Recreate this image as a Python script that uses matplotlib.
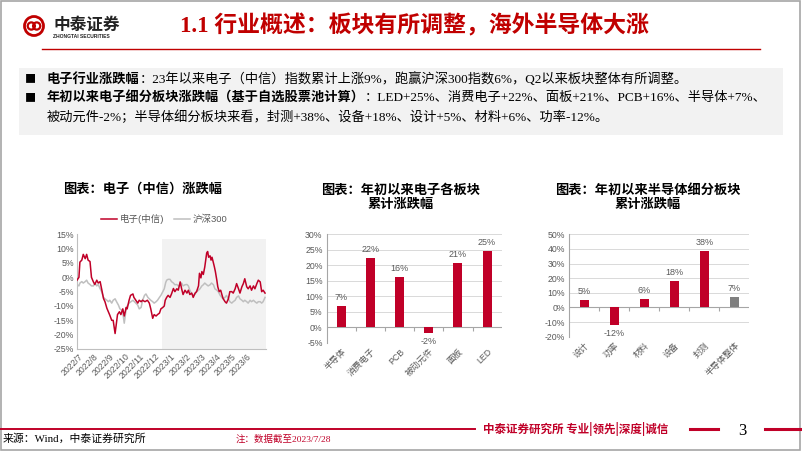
import matplotlib
matplotlib.use('Agg')
import matplotlib.pyplot as plt
from matplotlib.patches import Rectangle, Circle
from matplotlib.lines import Line2D

plt.rcParams['font.family'] = ['Liberation Sans', 'Noto Sans CJK SC', 'DejaVu Sans']
plt.rcParams['axes.unicode_minus'] = False

W, H = 802, 451

# ---------------- data ----------------
# 电子(中信) / 沪深300, days since 2022-07-01, % change
red_days = [0, 4, 6, 10, 13, 17, 20, 23, 27, 30, 34, 37, 41, 44, 48, 51, 55, 58, 62, 65,
            68, 72, 75, 79, 81, 84, 88, 91, 95, 98, 102, 104, 108, 111, 116, 118, 122, 126, 129, 133,
            136, 141, 146, 150, 153, 157, 160, 164, 167, 171, 174, 178, 181, 183, 186, 189, 193, 196, 200, 203,
            207, 210, 214, 217, 220, 224, 228, 231, 234, 238, 241, 245, 248, 252, 254, 257, 259, 262, 265, 269,
            271, 273, 276, 278, 280, 283, 285, 287, 290, 292, 295, 298, 301, 303, 307, 310, 314, 317, 321, 324,
            328, 331, 335, 338, 342, 345, 348, 352, 355, 359, 362, 366, 369, 373, 376, 380, 383, 386, 390]
red_vals = [-1, 0, 5.3, 6, 8, 6.5, 8, 6, 5.5, 0, -1.6, -2.5, -1, -2, -1.5, -4, -7.4, -8.5, -10.8, -12,
            -13.2, -15, -15, -19.6, -17, -13, -12, -13, -11, -13.5, -10.5, -11, -8, -6.3, -5.8, -7, -8, -9, -8, -8.5,
            -8, -8.5, -8, -9, -11, -14.3, -13, -13.5, -13, -12.5, -11, -10.5, -10, -8, -7, -6.3, -7, -5.8, -3.9, -5,
            -4, -4.5, -1.6, -4, -6, -4.5, -5.5, -4.5, -6, -5.5, -7, -5.5, -5, -3, 1.4, -0.2, 2, 1, 3.6, 8.5,
            9, 7, 7.5, 6, 7, 5, 3.6, 2, -1, -3.3, -5, -4.5, -6.3, -7.4, -8.5, -9, -7.5, -5, -5, -5.5,
            -4, -2.2, -4, -5.5, -3.3, -2.2, -0.5, -3.3, -4, -3, -4.5, -3, -4, -2.2, -1, -1.6, -5, -4.5, -5.5]

gray_days = [0, 4, 6, 10, 13, 17, 20, 23, 27, 30, 34, 37, 41, 44, 48, 51, 55, 58, 62, 65,
             68, 72, 75, 79, 82, 86, 89, 93, 96, 98, 102, 104, 108, 112, 116, 119, 122, 126, 129, 133,
             136, 140, 143, 147, 150, 153, 157, 160, 164, 167, 171, 174, 178, 181, 184, 186, 189, 193, 196, 200,
             203, 207, 210, 214, 217, 220, 224, 228, 231, 234, 238, 241, 245, 248, 252, 255, 259, 262, 265, 269,
             272, 276, 279, 283, 286, 290, 293, 297, 300, 303, 307, 310, 314, 317, 321, 324, 328, 331, 335, 338,
             342, 345, 348, 352, 355, 359, 362, 366, 369, 373, 376, 380, 383, 386, 390]
gray_vals = [-2.5, -3, -2, -1.5, -2, -1.5, -1, -2, -2.5, -3, -3, -2, -3, -2.5, -4, -5, -7, -7.5, -8, -8.5,
             -8, -9, -8, -7.5, -8.5, -9.7, -11, -11.5, -13.5, -16, -11, -10, -9, -8.5, -8, -8.5, -9, -9.7, -11, -10.5,
             -8, -6.3, -5.8, -7, -7.5, -8, -8.5, -9, -8.5, -8, -7, -6.3, -5, -4, -1.8, -1, -0.7, -0.7, -1.5, -2,
             -2.6, -2.5, -3, -2.6, -2, -3, -2.6, -2.5, -3, -4.5, -5.8, -6.3, -5.8, -5, -4.5, -4, -3, -2.6, -2, -2.6,
             -3, -2.6, -2, -2.6, -4, -4.5, -5, -6.3, -7, -7.5, -7, -6.3, -7.5, -8.5, -9, -8.5, -8, -7, -6.5, -7.5,
             -8, -8.5, -8, -8.5, -9, -8, -8.5, -8, -8.5, -9, -8.5, -8.5, -9, -8.5, -7]

month_ticks = [3, 34, 67, 100, 131, 162, 194, 228, 259, 290, 321, 352]
month_labels = ['2022/7', '2022/8', '2022/9', '2022/10', '2022/11', '2022/12',
                '2023/1', '2023/2', '2023/3', '2023/4', '2023/5', '2023/6']
shade_start = 176
day_end = 392

sector_names = ['半导体', '消费电子', 'PCB', '被动元件', '面板', 'LED']
sector_vals = [6.9, 22.2, 16.2, -1.9, 20.6, 24.6]

semi_names = ['设计', '功率', '材料', '设备', '封测', '半导体整体']
semi_vals = [5.0, -12.2, 5.9, 17.8, 38.3, 6.9]
semi_colors = ['#C00028', '#C00028', '#C00028', '#C00028', '#C00028', '#7F7F7F']

RED = '#C00028'
TRED = '#C00000'
TXT = '#595959'
SERIF = ['Liberation Serif', 'Noto Sans CJK SC']
CJK = ['Noto Sans CJK SC', 'DejaVu Sans']


def fx(x):
    return x / W


def fy(y):
    return 1 - y / H


def axes_px(l, t, r, b):
    return fig.add_axes([l / W, 1 - b / H, (r - l) / W, (b - t) / H])


fig = plt.figure(figsize=(W / 100, H / 100), dpi=100)
renderer = fig.canvas.get_renderer()

# frame
fig.add_artist(Rectangle((fx(1), fy(449.5)), (799) / W, 448.5 / H, transform=fig.transFigure,
                         fill=False, edgecolor='#A6A6A6', lw=1.2))

# logo
lax = axes_px(23, 15, 45, 37)
lax.set_xlim(-1.1, 1.1)
lax.set_ylim(-1.1, 1.1)
lax.set_aspect('equal')
lax.axis('off')
lax.add_patch(Circle((0, 0), 0.95, fill=False, edgecolor=TRED, lw=2))
lax.add_patch(Circle((-0.27, 0), 0.36, fill=False, edgecolor=TRED, lw=1.6))
lax.add_patch(Circle((0.27, 0), 0.36, fill=False, edgecolor=TRED, lw=1.6))
fig.text(fx(53), fy(25), '中泰证券', fontsize=12, fontweight='bold', family=CJK,
         color='#222222', va='center', ha='left')
fig.text(fx(53), fy(36), 'ZHONGTAI SECURITIES', fontsize=3.6, fontweight='bold',
         color='#222222', va='center', ha='left')

# header title
fig.text(fx(180), fy(26), '1.1 行业概述：板块有所调整，海外半导体大涨', fontsize=16.5,
         fontweight='bold', family=SERIF, color=TRED, va='center', ha='left')
fig.add_artist(Line2D([fx(42), fx(760)], [fy(49), fy(49)], color=TRED, lw=1.0,
                      transform=fig.transFigure))

# summary box
fig.add_artist(Rectangle((fx(19), fy(135)), 764 / W, 67 / H, transform=fig.transFigure,
                         facecolor='#F2F2F2', edgecolor='none'))


def runs(x, y, parts, size=9.5):
    for txt, wt in parts:
        t = fig.text(fx(x), fy(y), txt, fontsize=size, fontweight=wt, family=SERIF,
                     color='black', va='center', ha='left')
        x += t.get_window_extent(renderer).width


for yy in (79, 98):
    fig.text(fx(30), fy(yy), '■', fontsize=8, family=CJK, color='black', va='center', ha='center')
runs(47, 79, [('电子行业涨跌幅', 'bold'),
              ('：23年以来电子（中信）指数累计上涨9%，跑赢沪深300指数6%，Q2以来板块整体有所调整。', 'normal')])
runs(47, 98, [('年初以来电子细分板块涨跌幅（基于自选股票池计算）', 'bold'),
              ('：LED+25%、消费电子+22%、面板+21%、PCB+16%、半导体+7%、', 'normal')])
runs(47, 117, [('被动元件-2%；半导体细分板块来看，封测+38%、设备+18%、设计+5%、材料+6%、功率-12%。', 'normal')])

# chart titles
fig.text(fx(143), fy(189), '图表：电子（中信）涨跌幅', fontsize=9.5, fontweight='bold',
         family=CJK, ha='center', va='center')
fig.text(fx(401), fy(190), '图表：年初以来电子各板块', fontsize=9.5, fontweight='bold',
         family=CJK, ha='center', va='center')
fig.text(fx(401), fy(204), '累计涨跌幅', fontsize=9.5, fontweight='bold',
         family=CJK, ha='center', va='center')
fig.text(fx(648), fy(190), '图表：年初以来半导体细分板块', fontsize=9.5, fontweight='bold',
         family=CJK, ha='center', va='center')
fig.text(fx(648), fy(204), '累计涨跌幅', fontsize=9.5, fontweight='bold',
         family=CJK, ha='center', va='center')

# ---------------- chart 1: line ----------------
ax1 = axes_px(77, 234.3, 266, 349)
ax1.axvspan(shade_start, day_end, ymin=0, ymax=0.958, color='#F2F2F2', lw=0, zorder=0)
ax1.plot(gray_days, gray_vals, color='#BFBFBF', lw=1.1, label='沪深300', zorder=2)
ax1.plot(red_days, red_vals, color=RED, lw=1.1, label='电子(中信)', zorder=3)
ax1.set_xlim(0, day_end)
ax1.set_ylim(-25, 15)
ax1.set_yticks(range(-25, 16, 5))
ax1.set_yticklabels(['%d%%' % v for v in range(-25, 16, 5)])
ax1.set_xticks(month_ticks)
ax1.set_xticklabels(month_labels, rotation=45, ha='right', rotation_mode='anchor')
for s in ('top', 'right'):
    ax1.spines[s].set_visible(False)
for s in ('left', 'bottom'):
    ax1.spines[s].set_color('#BFBFBF')
    ax1.spines[s].set_linewidth(0.8)
ax1.tick_params(length=0, labelsize=6.3, labelcolor=TXT, pad=2)
h, l = ax1.get_legend_handles_labels()
fig.legend(h[::-1], l[::-1], loc='center', bbox_to_anchor=(fx(164), fy(219)), ncol=2,
           frameon=False, fontsize=6.8, handlelength=1.7, handletextpad=0.3,
           columnspacing=1.0, labelcolor=TXT)


# ---------------- bar charts ----------------
def bar_chart(ax, names, vals, colors, lo, hi, step):
    xs = range(len(names))
    ax.bar(xs, vals, width=0.31, color=colors, zorder=3)
    ax.set_ylim(lo, hi)
    ax.set_xlim(-0.5, len(names) - 0.5)
    ticks = list(range(lo, hi + 1, step))
    ax.set_yticks(ticks)
    ax.set_yticklabels(['%d%%' % v for v in ticks])
    ax.grid(axis='y', color='#D9D9D9', lw=0.7, zorder=0)
    ax.axhline(0, color='#A6A6A6', lw=0.8, zorder=2)
    for s in ('top', 'right', 'bottom'):
        ax.spines[s].set_visible(False)
    ax.spines['left'].set_color('#A6A6A6')
    ax.spines['left'].set_linewidth(0.8)
    ax.set_xticks(list(xs))
    ax.set_xticklabels(names, rotation=45, ha='right', rotation_mode='anchor')
    ax.tick_params(length=0, labelsize=6.3, labelcolor=TXT, pad=3)
    for x, v in zip(xs, vals):
        ax.annotate('%.0f%%' % v, (x, v), xytext=(0, 3 if v >= 0 else -3),
                    textcoords='offset points', ha='center',
                    va='bottom' if v >= 0 else 'top', fontsize=6.5, color=TXT)
    sec = ax.secondary_xaxis((0 - lo) / (hi - lo))
    sec.set_xticks([i + 0.5 for i in range(len(names) - 1)])
    sec.tick_params(length=3, color='#A6A6A6', labelbottom=False, labeltop=False, direction='out')
    sec.spines['bottom'].set_visible(False)
    sec.spines['top'].set_visible(False)


ax2 = axes_px(326.7, 234.3, 501.7, 342.7)
bar_chart(ax2, sector_names, sector_vals, RED, -5, 30, 5)

ax3 = axes_px(569.3, 234.3, 749.3, 336.7)
bar_chart(ax3, semi_names, semi_vals, semi_colors, -20, 50, 10)

# ---------------- footer ----------------
fig.add_artist(Line2D([fx(0), fx(475)], [fy(429.3), fy(429.3)], color=RED, lw=1.4,
                      transform=fig.transFigure))
fig.add_artist(Line2D([fx(690), fx(718)], [fy(429.3), fy(429.3)], color=RED, lw=2.2,
                      transform=fig.transFigure))
fig.add_artist(Line2D([fx(765), fx(800)], [fy(429.3), fy(429.3)], color=RED, lw=2.2,
                      transform=fig.transFigure))
fig.text(fx(483), fy(429), '中泰证券研究所 专业|领先|深度|诚信', fontsize=8.3, fontweight='bold',
         family=CJK, color=RED, ha='left', va='center')
fig.text(fx(742), fy(431), '3', fontsize=12, family=SERIF, color='black', ha='center', va='center')
fig.text(fx(3), fy(438.5), '来源：Wind，中泰证券研究所', fontsize=7.8, family=SERIF,
         color='black', ha='left', va='center')
fig.text(fx(236), fy(439), '注：数据截至2023/7/28', fontsize=6.8, family=SERIF,
         color=RED, ha='left', va='center')

fig.savefig('out.png', dpi=100)
